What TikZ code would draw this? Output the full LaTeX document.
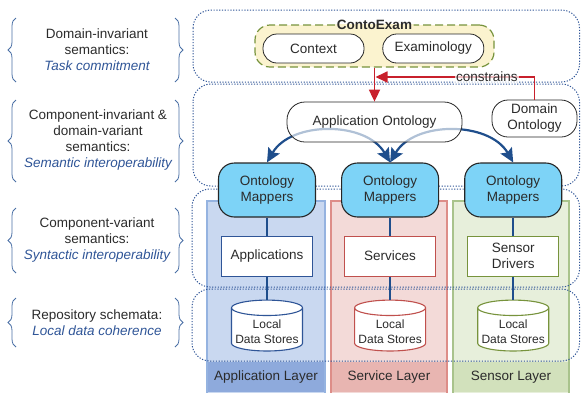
\documentclass[tikz,border=0pt]{standalone}
\usepackage{fontspec}
\setmainfont{Liberation Sans}
\usetikzlibrary{positioning,shapes.geometric,arrows.meta,decorations.pathreplacing}

\definecolor{textgray}{HTML}{2B2B2B}
\definecolor{roleblue}{HTML}{2F5597}
\definecolor{bandblue}{HTML}{2F5597}
\definecolor{bracecol}{HTML}{4A6FA5}
\definecolor{mapfill}{HTML}{7DD3F7}
\definecolor{linkblue}{HTML}{1F4E8C}
\definecolor{conred}{HTML}{C8202C}
\definecolor{examfill}{HTML}{FBF3CF}
\definecolor{examgreen}{HTML}{77933C}
\definecolor{appfill}{HTML}{C9D8F0}
\definecolor{appedge}{HTML}{95B3E0}
\definecolor{applabel}{HTML}{8EAADC}
\definecolor{appblue}{HTML}{2F5597}
\definecolor{srvfill}{HTML}{F3DAD8}
\definecolor{srvedge}{HTML}{DD8D88}
\definecolor{srvlabel}{HTML}{E8B5B1}
\definecolor{srvred}{HTML}{C0504D}
\definecolor{senfill}{HTML}{E7EFDB}
\definecolor{senedge}{HTML}{A9C38C}
\definecolor{senlabel}{HTML}{D2E1BC}
\definecolor{sengreen}{HTML}{77933C}

\newcommand{\semrole}[1]{{\color{roleblue}\itshape #1}}

\begin{document}
\begin{tikzpicture}[x=1pt, y=-1pt, node distance=18pt,
    every node/.append style={font=\fontsize{13.5}{16}\selectfont, text=textgray},
    band/.style={draw=bandblue, line width=1pt, dash pattern=on 1.2pt off 1.6pt, rounded corners=18pt},
    semlabel/.style={align=center, inner sep=0pt},
    sembrace/.style={draw=bracecol, line width=0.8pt, decorate, decoration={brace, amplitude=8pt}},
    pill/.style={rectangle, draw=black!85, line width=0.8pt, fill=white, rounded corners=14pt,
        minimum width=101pt, minimum height=29pt},
    onto/.style={rectangle, draw=black!85, line width=0.8pt, fill=white, fill opacity=0.65,
        text opacity=1, align=center},
    mapper/.style={rectangle, draw=black!85, line width=1.1pt, fill=mapfill, rounded corners=16pt,
        minimum width=97pt, minimum height=54pt, align=center},
    layerbox/.style={rectangle, draw=#1, line width=1pt, fill=white,
        minimum width=91pt, minimum height=40pt, align=center},
    store/.style={cylinder, shape border rotate=90, aspect=0.22, draw=#1, line width=1.1pt,
        fill=white, minimum width=71pt, minimum height=50pt, align=center,
        font=\fontsize{12}{15}\selectfont},
    link/.style={draw=linkblue, line width=2.4pt},
    feed/.style={draw=linkblue, line width=2.2pt,
        {Stealth[length=14pt,width=13pt,inset=2.5pt]}-{Stealth[length=14pt,width=13pt,inset=2.5pt]}},
    constr/.style={draw=conred, line width=1.8pt, -{Triangle[length=12pt,width=11pt]}}]
    \useasboundingbox (0,0) rectangle (581,392);

    % layer columns
    \draw [draw=appedge, fill=appfill, line width=1.5pt] (207,201) rectangle (325,394);
    \draw [draw=srvedge, fill=srvfill, line width=1.5pt] (331,201) rectangle (447,394);
    \draw [draw=senedge, fill=senfill, line width=1.5pt] (453,201) rectangle (569,394);
    \fill [applabel] (208,362) rectangle (324,392);
    \fill [srvlabel] (332,362) rectangle (446,392);
    \fill [senlabel] (454,362) rectangle (568,392);
    \node (applayer) at (266,377) {Application Layer};
    \node (srvlayer) at (389,377) {Service Layer};
    \node (senlayer) at (511,377) {Sensor Layer};

    % semantic bands
    \draw [band] (193,10) rectangle (579.5,82);
    \draw [band] (193,84) rectangle (579.5,186);
    \draw [band] (192,189) rectangle (579.5,287);
    \draw [band] (192,289) rectangle (579.5,361);

    % band labels
    \node [semlabel] (sem1) at (97,50) {Domain-invariant\\semantics:\\\semrole{Task commitment}};
    \node [semlabel] (sem2) at (98,140) {Component-invariant \&\\domain-variant\\semantics:\\\semrole{Semantic interoperability}};
    \node [semlabel] (sem3) at (97,240) {Component-variant\\semantics:\\\semrole{Syntactic interoperability}};
    \node [semlabel] (sem4) at (97,323) {Repository schemata:\\\semrole{Local data coherence}};
    \draw [sembrace] (16,82) -- (16,18);
    \draw [sembrace] (175,18) -- (175,82);
    \draw [sembrace] (16,182) -- (16,100);
    \draw [sembrace] (175,100) -- (175,182);
    \draw [sembrace] (16,273) -- (16,208);
    \draw [sembrace] (175,208) -- (175,273);
    \draw [sembrace] (16,347) -- (16,298);
    \draw [sembrace] (175,298) -- (175,347);

    % ContoExam
    \node [rectangle, draw=examgreen, fill=examfill, line width=1.2pt, dash pattern=on 8pt off 4pt,
        rounded corners=15pt, minimum width=239pt, minimum height=42pt] (exam) at (374.5,46) {};
    \node [font=\fontsize{13.5}{16}\selectfont\bfseries, inner sep=1.5pt,
        path picture={
            \fill [white] (path picture bounding box.north west) rectangle (path picture bounding box.east);
            \fill [examfill] (path picture bounding box.west) rectangle (path picture bounding box.south east);
        }] (examtitle) at (exam.north) {ContoExam};
    \node [pill] (context) at (313.5,48.5) {Context};
    \node [pill, right=18pt of context] (examinology) {Examinology};

    % ontology mappers and components
    \node [mapper] (mapapp) at (267,190) {Ontology\\Mappers};
    \node [mapper, right=25pt of mapapp] (mapsrv) {Ontology\\Mappers};
    \node [mapper, right=25pt of mapsrv] (mapsen) {Ontology\\Mappers};

    \node [layerbox=appblue, below=of mapapp] (apps) {Applications};
    \node [layerbox=srvred, below=of mapsrv] (srvs) {Services};
    \node [layerbox=sengreen, below=of mapsen] (drivers) {Sensor\\Drivers};

    \node [store=appblue, below=23pt of apps] (appstore) {Local\\Data Stores};
    \node [store=srvred, below=23pt of srvs] (srvstore) {Local\\Data Stores};
    \node [store=sengreen, below=23pt of drivers] (senstore) {Local\\Data Stores};

    \draw [link] (mapapp) -- (apps);
    \draw [link] (apps) -- (appstore);
    \draw [link] (mapsrv) -- (srvs);
    \draw [link] (srvs) -- (srvstore);
    \draw [link] (mapsen) -- (drivers);
    \draw [link] (drivers) -- (senstore);

    \draw [feed] (mapapp.north) to[out=60, in=120] (mapsrv.north);
    \draw [feed] (mapsrv.north) to[out=60, in=120] (mapsen.north);

    % ontologies
    \node [onto, rounded corners=18pt, minimum width=175pt, minimum height=40pt] (appont) at (374.5,122) {Application Ontology};
    \node [onto, rounded corners=16pt, minimum width=85pt, minimum height=37pt] (domont) at (534.5,118.5) {Domain\\Ontology};

    \coordinate (cjoin) at (375.5,77);
    \draw [constr] (exam.south) -- (appont.north);
    \draw [constr] (domont.north) |- node [pos=0.65, fill=white, fill opacity=0.7, text opacity=1, inner sep=1pt] (constrains) {constrains} (cjoin);
\end{tikzpicture}
\end{document}
